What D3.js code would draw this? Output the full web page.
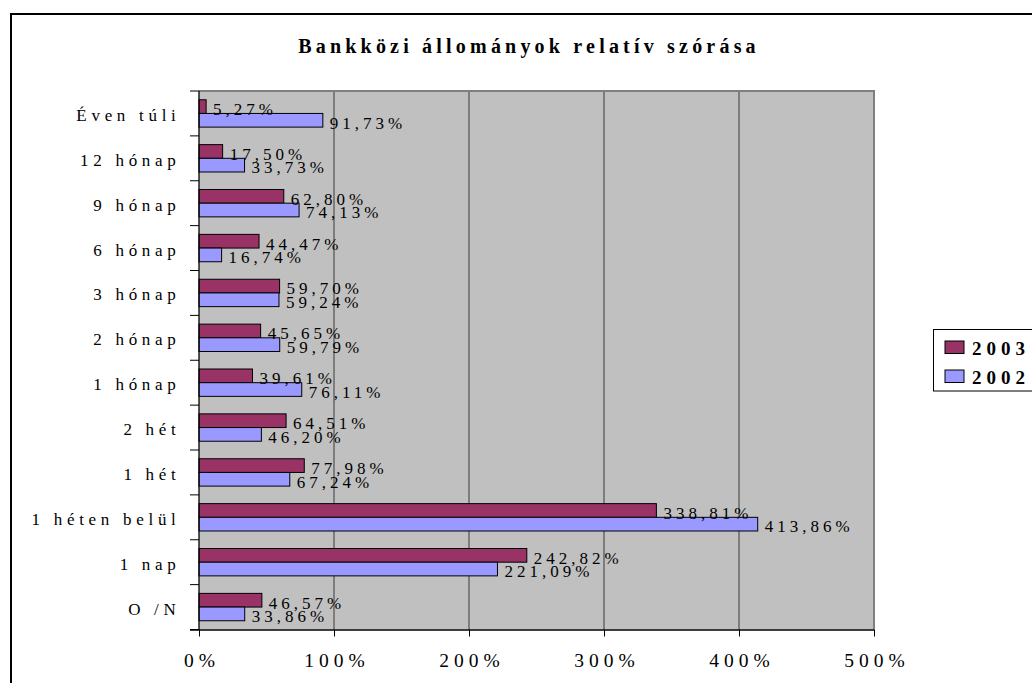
<!DOCTYPE html>
<html>
<head>
<meta charset="utf-8">
<script src="https://cdn.jsdelivr.net/npm/d3@7/dist/d3.min.js"></script>
<style>
  html, body { margin: 0; padding: 0; background: #fff; }
  svg { display: block; }
  svg text { font-family: "Liberation Serif", "Times New Roman", Times, "DejaVu Serif", serif !important; fill: #000; }
</style>
</head>
<body>
<svg id="chart" width="1032" height="683"></svg>
<script>
const title = "Bankközi állományok relatív szórása";
const categories = ["Éven túli", "12 hónap", "9 hónap", "6 hónap", "3 hónap", "2 hónap",
                    "1 hónap", "2 hét", "1 hét", "1 héten belül", "1 nap", "O /N"];
const seriesNames = ["2003", "2002"];
const values2003 = [5.27, 17.50, 62.80, 44.47, 59.70, 45.65, 39.61, 64.51, 77.98, 338.81, 242.82, 46.57];
const values2002 = [91.73, 33.73, 74.13, 16.74, 59.24, 59.79, 76.11, 46.20, 67.24, 413.86, 221.09, 33.86];
const xTickValues = [0, 100, 200, 300, 400, 500];
const seriesColors = ["#993366", "#9999FF"];
const FONT = "'Liberation Serif', 'Times New Roman', Times, serif";

const svg = d3.select("#chart").attr("font-family", FONT);

// outer chart border
svg.append("rect").attr("x", 11).attr("y", 14).attr("width", 1100).attr("height", 800)
  .attr("fill", "#fff").attr("stroke", "#000").attr("stroke-width", 2);

const plot = { left: 199, right: 874, top: 91, bottom: 629.5 };

const x = d3.scaleLinear().domain([0, 500]).range([plot.left, plot.right]);
const y0 = d3.scaleBand().domain(categories).range([plot.top, plot.bottom]).padding(0);
const y1 = d3.scaleBand().domain(seriesNames).range([0, y0.bandwidth()])
  .paddingInner(0).paddingOuter(0.64);

// plot background
svg.append("rect").attr("x", plot.left).attr("y", plot.top)
  .attr("width", plot.right - plot.left).attr("height", plot.bottom - plot.top)
  .attr("fill", "#C0C0C0");

// gridlines
svg.append("g").selectAll("line").data(xTickValues.slice(1, -1)).join("line")
  .attr("x1", d => x(d)).attr("x2", d => x(d))
  .attr("y1", plot.top).attr("y2", plot.bottom)
  .attr("stroke", "#3a3a3a").attr("stroke-width", 1);

// plot border (top and right)
svg.append("path")
  .attr("d", `M${plot.left},${plot.top}H${plot.right}V${plot.bottom}`)
  .attr("fill", "none").attr("stroke", "#808080").attr("stroke-width", 2);

// bars
const rows = categories.map((c, i) => ({ cat: c, vals: [values2003[i], values2002[i]] }));
const groups = svg.append("g").selectAll("g").data(rows).join("g")
  .attr("transform", d => `translate(0,${y0(d.cat)})`);

groups.selectAll("rect").data(d => d.vals.map((v, j) => ({ s: seriesNames[j], v, j })))
  .join("rect")
  .attr("x", x(0))
  .attr("y", d => y1(d.s))
  .attr("width", d => x(d.v) - x(0))
  .attr("height", y1.bandwidth())
  .attr("fill", d => seriesColors[d.j])
  .attr("stroke", "#000").attr("stroke-width", 1);

const fmt = v => d3.format(".2f")(v).replace(".", ",") + "%";
groups.selectAll("text").data(d => d.vals.map((v, j) => ({ s: seriesNames[j], v, j })))
  .join("text")
  .attr("x", d => x(d.v) + 7)
  .attr("y", d => y1(d.s) + y1.bandwidth() + 1.5)
  .attr("font-family", FONT)
  .attr("font-size", 17)
  .attr("letter-spacing", 4)
  .text(d => fmt(d.v));

// left axis (category labels)
const yAxis = svg.append("g").attr("transform", `translate(${plot.left},0)`)
  .call(d3.axisLeft(y0).tickSize(0).tickPadding(0));
yAxis.attr("font-family", FONT);
yAxis.select(".domain").remove();
yAxis.selectAll("text")
  .attr("x", -18.5)
  .attr("dy", "0.44em")
  .attr("font-size", 17)
  .attr("letter-spacing", 4.7)
  .attr("font-family", FONT)
  .attr("fill", "#000");

// category boundary ticks
const boundaries = categories.map(c => y0(c)).concat([plot.bottom]);
svg.append("g").selectAll("line").data(boundaries).join("line")
  .attr("x1", plot.left - 9).attr("x2", plot.left)
  .attr("y1", d => d).attr("y2", d => d)
  .attr("stroke", "#000").attr("stroke-width", 1);

// left axis line
svg.append("line").attr("x1", plot.left).attr("x2", plot.left)
  .attr("y1", plot.top).attr("y2", plot.bottom)
  .attr("stroke", "#000").attr("stroke-width", 1.3);

// bottom axis
const xAxis = svg.append("g").attr("transform", `translate(0,${plot.bottom})`)
  .call(d3.axisBottom(x).tickValues(xTickValues).tickSize(7).tickSizeOuter(0)
    .tickFormat(d => d + "%"));
xAxis.attr("font-family", FONT);
xAxis.select(".domain").attr("stroke", "#000").attr("stroke-width", 1.3)
  .attr("d", `M${plot.left - 9},0.5H${plot.right}`);
xAxis.selectAll(".tick line").attr("stroke", "#000");
xAxis.selectAll("text")
  .attr("y", 37.5).attr("dy", 0).attr("dx", 2.5)
  .attr("font-size", 19.5)
  .attr("letter-spacing", 5)
  .attr("font-family", FONT)
  .attr("fill", "#000");

// title
svg.append("text").attr("x", 529).attr("y", 53)
  .attr("text-anchor", "middle")
  .attr("font-family", FONT)
  .attr("font-size", 20).attr("font-weight", "bold")
  .attr("letter-spacing", 4.2)
  .text(title);

// legend
const legend = svg.append("g");
legend.append("rect").attr("x", 933.5).attr("y", 329.5).attr("width", 200).attr("height", 61.5)
  .attr("fill", "#fff").attr("stroke", "#000").attr("stroke-width", 1);
const legY = d3.scaleBand().domain(seriesNames).range([341, 399]).padding(0);
const items = legend.selectAll("g.item").data(seriesNames).join("g").attr("class", "item")
  .attr("transform", d => `translate(945,${legY(d)})`);
items.append("rect").attr("width", 19).attr("height", 12.5)
  .attr("fill", (d, i) => seriesColors[i]).attr("stroke", "#000").attr("stroke-width", 1);
items.append("text").attr("x", 27).attr("y", 13.5)
  .attr("font-family", FONT)
  .attr("font-size", 19).attr("font-weight", "bold").attr("letter-spacing", 5)
  .text(d => d);
</script>
</body>
</html>
